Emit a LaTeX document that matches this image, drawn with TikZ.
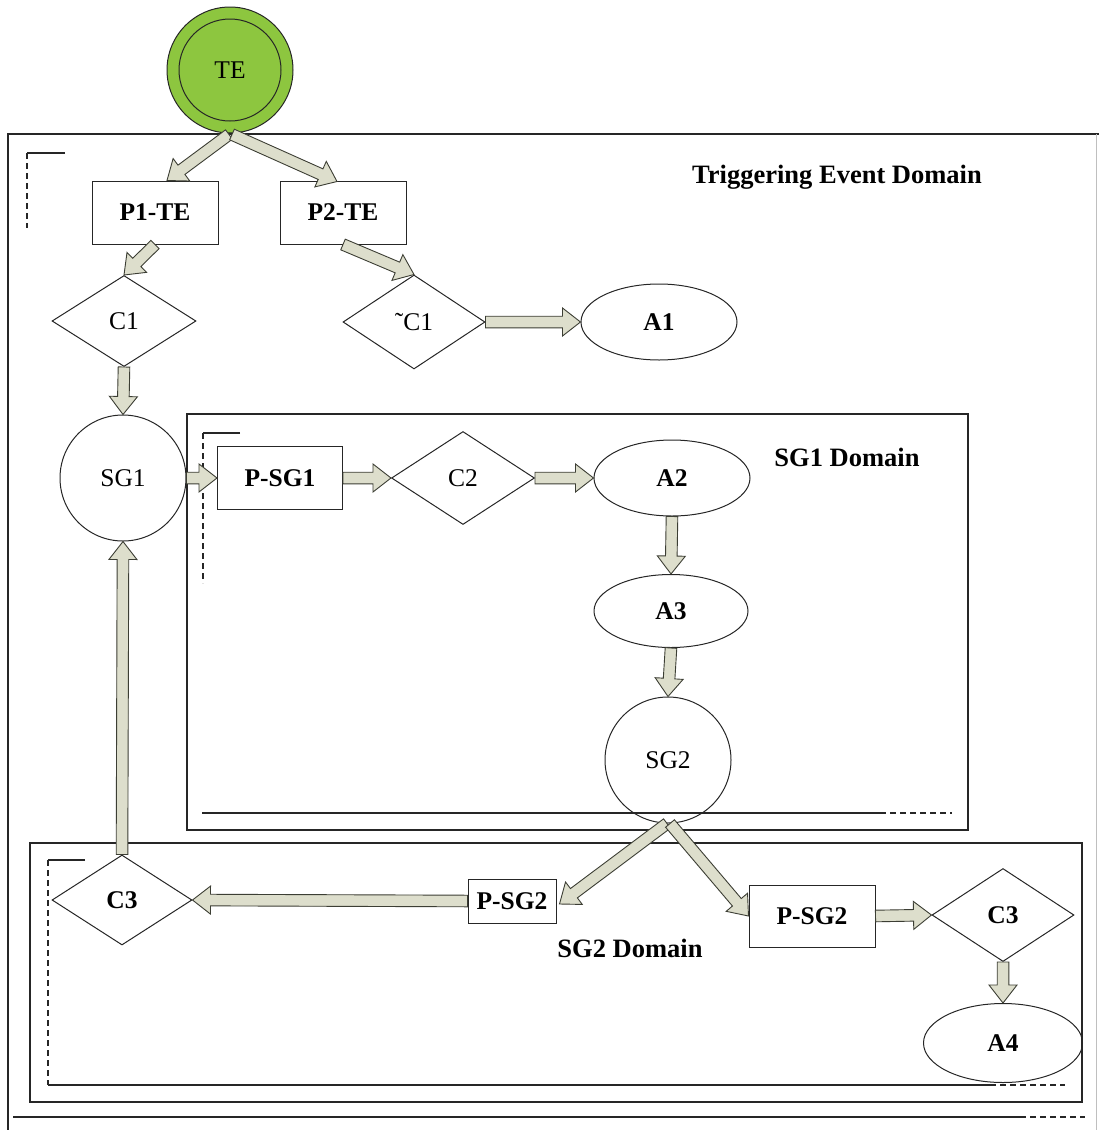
\documentclass[tikz,border=0pt]{standalone}
\usepackage{fontspec}
\setmainfont{Liberation Serif}
\usetikzlibrary{shapes.geometric,calc}
\definecolor{tegreen}{RGB}{141,198,63}
\definecolor{arrfill}{RGB}{221,222,204}
\definecolor{arrline}{RGB}{60,62,52}
\newcommand\fatarr[2]{%
  \coordinate (fa-s) at (#1);
  \coordinate (fa-e) at (#2);
  \coordinate (fa-m) at ($(fa-e)!18pt!(fa-s)$);
  \filldraw[fatarrow] ($(fa-s)!5.8pt!90:(fa-e)$) -- ($(fa-m)!5.8pt!90:(fa-e)$)
    -- ($(fa-m)!14pt!90:(fa-e)$) -- (fa-e) -- ($(fa-m)!14pt!-90:(fa-e)$)
    -- ($(fa-m)!5.8pt!-90:(fa-e)$) -- ($(fa-s)!5.8pt!-90:(fa-e)$) -- cycle;
}
\tikzset{
  txt/.style={font=\fontsize{25.5}{28}\selectfont},
  bold/.style={font=\fontsize{25.5}{28}\selectfont\bfseries},
  domlabel/.style={font=\fontsize{26.5}{30}\selectfont\bfseries},
  shp/.style={draw=black!85, line width=1pt, inner sep=0pt},
  boxnode/.style={shp, rectangle},
  dia/.style={shp, diamond},
  ell/.style={shp, ellipse},
  circ/.style={shp, circle},
  frame/.style={draw=black!85, line width=1.3pt},
  dframe/.style={draw=black!85, line width=1.2pt, dash pattern=on 6pt off 4pt},
  fatarrow/.style={fill=arrfill, draw=arrline, line width=0.9pt, line join=miter},
}
\begin{document}
\begin{tikzpicture}[x=1pt,y=-1pt]
\useasboundingbox (0,0) rectangle (1099,1130);
% Triggering event domain frame
\draw[frame] (1099,134) -- (8,134) -- (8,1130);
\draw[draw=black!25, line width=0.8pt] (1096,134) -- (1096,1130);
\draw[frame, line width=1.1pt] (65,153) -- (27,153);
\draw[dframe] (27,153) -- (27,228);
\draw[frame] (13,1117) -- (1020,1117);
\draw[dframe] (1020,1117) -- (1085,1117);
% SG1 domain frame
\draw[frame] (187,414) rectangle (968,830);
\draw[frame, line width=1.1pt] (240,433) -- (203,433);
\draw[dframe] (203,433) -- (203,583);
\draw[frame] (202,813) -- (880,813);
\draw[dframe] (880,813) -- (952,813);
% SG2 domain frame
\draw[frame] (30,843) rectangle (1082,1102);
\draw[frame, line width=1.1pt] (85,860) -- (48,860);
\draw[dframe] (48,860) -- (48,1085);
\draw[frame] (48,1085) -- (990,1085);
\draw[dframe] (990,1085) -- (1065,1085);
% labels
\node[domlabel] (lte) at (837,177) {Triggering Event Domain};
\node[domlabel] (lsg1) at (847,457) {SG1 Domain};
\node[domlabel] (lsg2) at (630,948) {SG2 Domain};
% nodes
\node[circ, fill=tegreen, minimum size=126pt, txt] (TE) at (230,70) {TE};
\draw[draw=black!85, line width=1pt] (TE.center) circle[radius=51];
\node[boxnode, minimum width=126pt, minimum height=63pt, bold] (P1) at (155,212.5) {P1-TE};
\node[boxnode, minimum width=126pt, minimum height=63pt, bold] (P2) at (343,212.5) {P2-TE};
\node[dia, minimum width=144pt, minimum height=91pt, txt] (C1) at (124,321) {C1};
\node[dia, minimum width=142pt, minimum height=94pt, txt] (NC1) at (414,322) {˜C1};
\node[ell, minimum width=156pt, minimum height=76pt, bold] (A1) at (659,322) {A1};
\node[circ, minimum size=126pt, txt] (SG1) at (123,478) {SG1};
\node[boxnode, minimum width=125pt, minimum height=63pt, bold] (PSG1) at (280,478) {P-SG1};
\node[dia, minimum width=143pt, minimum height=93pt, txt] (C2) at (463,478) {C2};
\node[ell, minimum width=156pt, minimum height=76pt, bold] (A2) at (672,478) {A2};
\node[ell, minimum width=154pt, minimum height=73pt, bold] (A3) at (671,611) {A3};
\node[circ, minimum size=126pt, txt] (SG2) at (668,760) {SG2};
\node[dia, minimum width=140pt, minimum height=90pt, bold] (C3L) at (122,900) {C3};
\node[boxnode, minimum width=88pt, minimum height=44pt, bold] (PSG2L) at (512,901) {P-SG2};
\node[boxnode, minimum width=126pt, minimum height=62pt, bold] (PSG2R) at (812,916) {P-SG2};
\node[dia, minimum width=142pt, minimum height=93pt, bold] (C3R) at (1003,915) {C3};
\node[ell, minimum width=159pt, minimum height=79pt, bold] (A4) at (1003,1043) {A4};
% connectors
\fatarr{$(TE.south)+(-1,1)$}{$(P1.north)+(12,0)$}
\fatarr{$(TE.south)+(2,1)$}{$(P2.north)+(-6,1)$}
\fatarr{P1.south}{C1.north}
\fatarr{P2.south}{NC1.north}
\fatarr{C1.south}{SG1.north}
\fatarr{NC1.east}{A1.west}
\fatarr{SG1.east}{PSG1.west}
\fatarr{PSG1.east}{C2.west}
\fatarr{C2.east}{A2.west}
\fatarr{A2.south}{A3.north}
\fatarr{A3.south}{SG2.north}
\fatarr{$(SG2.south)+(-1,0)$}{$(PSG2L.east)+(3,3)$}
\fatarr{$(SG2.south)+(2,0)$}{PSG2R.west}
\fatarr{PSG2L.west}{C3L.east}
\fatarr{C3L.north}{SG1.south}
\fatarr{PSG2R.east}{C3R.west}
\fatarr{C3R.south}{A4.north}
\end{tikzpicture}
\end{document}
